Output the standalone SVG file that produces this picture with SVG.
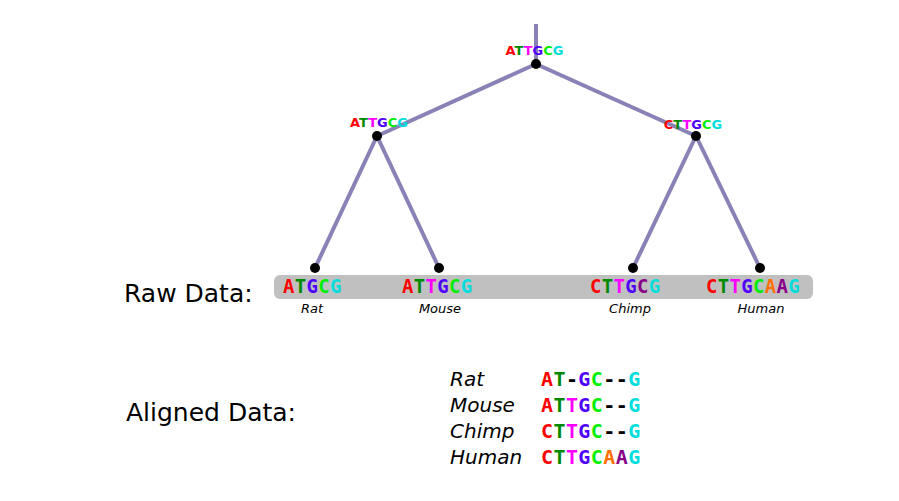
<svg xmlns="http://www.w3.org/2000/svg" width="899" height="501" viewBox="0 0 899 501">
<style>
.edge{stroke:#8882b6;stroke-width:4;fill:none;stroke-linecap:butt}
.dot{fill:#000}
.nl{font-family:"DejaVu Sans",sans-serif;font-weight:bold;font-size:13px}
.raw{font-family:"DejaVu Sans Mono",monospace;font-weight:bold;font-size:19px;letter-spacing:0.3px}
.aln{font-family:"DejaVu Sans Mono",monospace;font-weight:bold;font-size:20px;letter-spacing:0.4px}
.sp{font-family:"DejaVu Sans",sans-serif;font-style:italic;font-size:13px;fill:#000}
.spb{font-family:"DejaVu Sans",sans-serif;font-style:italic;font-size:20px;fill:#000}
.hd{font-family:"DejaVu Sans",sans-serif;font-size:25px;fill:#000}
.r{fill:#ff0000}.g{fill:#008a00}.m{fill:#ff00ff}.b{fill:#5000ff}.lg{fill:#00ee00}.o{fill:#ff7000}.p{fill:#880088}.c{fill:#00dddd}.k{fill:#000}
</style>
<rect x="274" y="275" width="539" height="24" rx="6" fill="#c0c0c0"/>
<g id="connectors">
<line class="edge" x1="536" y1="24" x2="536" y2="64"/>
<line class="edge" x1="536" y1="64" x2="377" y2="136"/>
<line class="edge" x1="536" y1="64" x2="696" y2="136"/>
<line class="edge" x1="377" y1="136" x2="315" y2="268"/>
<line class="edge" x1="377" y1="136" x2="439" y2="268"/>
<line class="edge" x1="696" y1="136" x2="633" y2="268"/>
<line class="edge" x1="696" y1="136" x2="760" y2="268"/>
</g>
<g id="root">
<circle class="dot" cx="536" cy="64" r="5"/>
<text class="nl" x="534.5" y="55" text-anchor="middle"><tspan class="r">A</tspan><tspan class="g">T</tspan><tspan class="m">T</tspan><tspan class="b">G</tspan><tspan class="lg">C</tspan><tspan class="c">G</tspan></text>
</g>
<g id="node-left">
<circle class="dot" cx="377" cy="136" r="5"/>
<text class="nl" x="379" y="127" text-anchor="middle"><tspan class="r">A</tspan><tspan class="g">T</tspan><tspan class="m">T</tspan><tspan class="b">G</tspan><tspan class="lg">C</tspan><tspan class="c">G</tspan></text>
</g>
<g id="node-right">
<circle class="dot" cx="696" cy="136" r="5"/>
<text class="nl" x="693" y="129" text-anchor="middle"><tspan class="r">C</tspan><tspan class="g">T</tspan><tspan class="m">T</tspan><tspan class="b">G</tspan><tspan class="lg">C</tspan><tspan class="c">G</tspan></text>
</g>
<g id="leaf-rat">
<circle class="dot" cx="315" cy="268" r="5"/>
<text class="raw" x="283" y="293"><tspan class="r">A</tspan><tspan class="g">T</tspan><tspan class="b">G</tspan><tspan class="lg">C</tspan><tspan class="c">G</tspan></text>
<text class="sp" x="312" y="313" text-anchor="middle">Rat</text>
</g>
<g id="leaf-mouse">
<circle class="dot" cx="439" cy="268" r="5"/>
<text class="raw" x="402" y="293"><tspan class="r">A</tspan><tspan class="g">T</tspan><tspan class="m">T</tspan><tspan class="b">G</tspan><tspan class="lg">C</tspan><tspan class="c">G</tspan></text>
<text class="sp" x="440" y="313" text-anchor="middle">Mouse</text>
</g>
<g id="leaf-chimp">
<circle class="dot" cx="633" cy="268" r="5"/>
<text class="raw" x="590" y="293"><tspan class="r">C</tspan><tspan class="g">T</tspan><tspan class="m">T</tspan><tspan class="b">G</tspan><tspan class="p">C</tspan><tspan class="c">G</tspan></text>
<text class="sp" x="630" y="313" text-anchor="middle">Chimp</text>
</g>
<g id="leaf-human">
<circle class="dot" cx="760" cy="268" r="5"/>
<text class="raw" x="706" y="293"><tspan class="r">C</tspan><tspan class="g">T</tspan><tspan class="m">T</tspan><tspan class="b">G</tspan><tspan class="lg">C</tspan><tspan class="o">A</tspan><tspan class="p">A</tspan><tspan class="c">G</tspan></text>
<text class="sp" x="761" y="313" text-anchor="middle">Human</text>
</g>
<text class="hd" x="124" y="302">Raw Data:</text>
<text class="hd" x="126" y="421">Aligned Data:</text>
<g id="aligned">
<text class="spb" x="450" y="386">Rat</text>
<text class="spb" x="450" y="412">Mouse</text>
<text class="spb" x="450" y="438">Chimp</text>
<text class="spb" x="450" y="464">Human</text>
<text class="aln" x="541" y="386"><tspan class="r">A</tspan><tspan class="g">T</tspan><tspan class="k">-</tspan><tspan class="b">G</tspan><tspan class="lg">C</tspan><tspan class="k">--</tspan><tspan class="c">G</tspan></text>
<text class="aln" x="541" y="412"><tspan class="r">A</tspan><tspan class="g">T</tspan><tspan class="m">T</tspan><tspan class="b">G</tspan><tspan class="lg">C</tspan><tspan class="k">--</tspan><tspan class="c">G</tspan></text>
<text class="aln" x="541" y="438"><tspan class="r">C</tspan><tspan class="g">T</tspan><tspan class="m">T</tspan><tspan class="b">G</tspan><tspan class="lg">C</tspan><tspan class="k">--</tspan><tspan class="c">G</tspan></text>
<text class="aln" x="541" y="464"><tspan class="r">C</tspan><tspan class="g">T</tspan><tspan class="m">T</tspan><tspan class="b">G</tspan><tspan class="lg">C</tspan><tspan class="o">A</tspan><tspan class="p">A</tspan><tspan class="c">G</tspan></text>
</g>
</svg>
